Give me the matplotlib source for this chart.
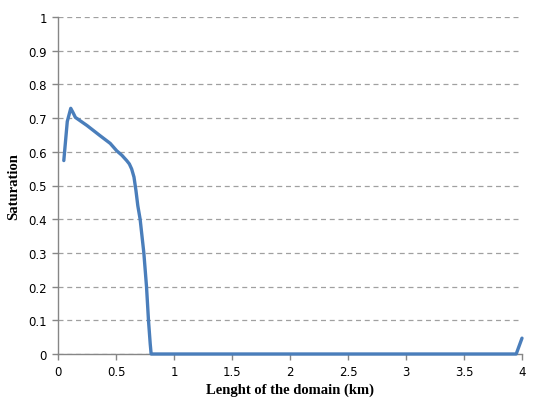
import matplotlib
matplotlib.use("Agg")
import matplotlib.pyplot as plt

length_km = [0.05, 0.08, 0.11, 0.13, 0.15, 0.25, 0.362, 0.45, 0.506, 0.55, 0.592, 0.615, 0.635,
             0.655, 0.672, 0.688, 0.708, 0.74, 0.763, 0.78, 0.795, 0.803, 1.0, 2.0, 3.0, 3.95, 4.0]
saturation = [0.574, 0.69, 0.729, 0.716, 0.702, 0.678, 0.648, 0.625, 0.603, 0.59, 0.574, 0.564, 0.549,
              0.525, 0.485, 0.44, 0.40, 0.30, 0.20, 0.10, 0.03, 0.0, 0.0, 0.0, 0.0, 0.0, 0.047]

x_ticks = [0, 0.5, 1, 1.5, 2, 2.5, 3, 3.5, 4]
x_tick_labels = ["0", "0.5", "1", "1.5", "2", "2.5", "3", "3.5", "4"]
y_ticks = [0, 0.1, 0.2, 0.3, 0.4, 0.5, 0.6, 0.7, 0.8, 0.9, 1]
y_tick_labels = ["0", "0.1", "0.2", "0.3", "0.4", "0.5", "0.6", "0.7", "0.8", "0.9", "1"]

fig = plt.figure(figsize=(5.58, 4.10), dpi=100)
ax = fig.add_axes([58/558, 55/410, 464/558, 337/410])

ax.plot(length_km, saturation, color="#4A7EBB", linewidth=2.4, solid_joinstyle="round",
        solid_capstyle="round", zorder=3, clip_on=False)

ax.set_xlim(0, 4)
ax.set_ylim(0, 1)
ax.set_xticks(x_ticks)
ax.set_xticklabels(x_tick_labels)
ax.set_yticks(y_ticks)
ax.set_yticklabels(y_tick_labels)

ax.yaxis.grid(True, linestyle=(0, (4, 3)), color="#A0A0A0", linewidth=0.9)
ax.set_axisbelow(True)

for s in ["top", "right"]:
    ax.spines[s].set_visible(False)
for s in ["left", "bottom"]:
    ax.spines[s].set_color("#868686")
    ax.spines[s].set_linewidth(1.0)

ax.tick_params(axis="both", direction="out", length=4, width=1.0, color="#868686",
               labelsize=8.5, labelcolor="black", pad=4)

ax.set_xlabel("Lenght of the domain (km)", fontfamily="Liberation Serif", fontweight="bold",
              fontsize=10.5, labelpad=3)
ax.set_ylabel("Saturation", fontfamily="Liberation Serif", fontweight="bold",
              fontsize=10.5, labelpad=6)

fig.savefig("out.png", dpi=100, facecolor="white")
